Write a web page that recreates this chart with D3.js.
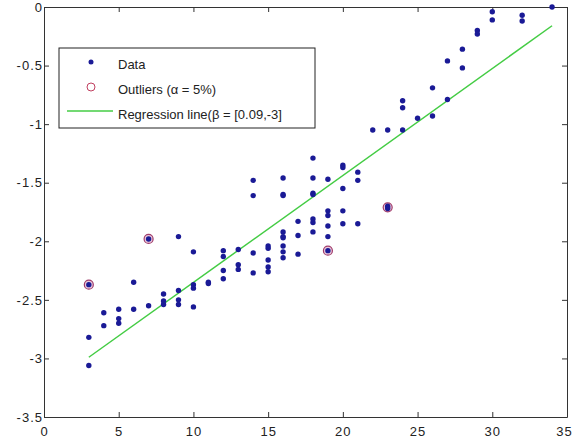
<!DOCTYPE html>
<html lang="en">
<head>
  <meta charset="UTF-8">
  <title>Regression with outliers</title>
  <style>
    body { margin: 0; background: #fff; }
    svg text { font-family: "Liberation Sans", Arial, sans-serif; font-size: 13px; fill: #222; }
  </style>
</head>
<body>
  <svg id="chart" width="574" height="440"></svg>

  <script src="https://d3js.org/d3.v7.min.js"></script>
  <script>
    // data
    const dataX = [
      3, 3, 3,
      4, 4,
      5, 5, 5,
      6, 6,
      7, 7,
      8, 8, 8,
      9, 9, 9, 9,
      10, 10, 10, 10,
      11, 11,
      12, 12, 12, 12,
      13, 13, 13,
      14, 14, 14, 14,
      15, 15, 15, 15, 15,
      16, 16, 16, 16, 16, 16, 16, 16, 16,
      17, 17, 17,
      18, 18, 18, 18, 18, 18, 18,
      19, 19, 19, 19, 19, 19,
      20, 20, 20, 20, 20,
      21, 21, 21,
      22,
      23, 23, 23,
      24, 24, 24,
      25,
      26, 26,
      27, 27,
      28, 28,
      29, 29,
      30, 30,
      32, 32,
      34
    ];
    const dataY = [
      -2.37, -2.82, -3.06,
      -2.61, -2.72,
      -2.58, -2.66, -2.70,
      -2.35, -2.58,
      -1.98, -2.55,
      -2.45, -2.51, -2.54,
      -1.96, -2.42, -2.50, -2.54,
      -2.09, -2.37, -2.40, -2.56,
      -2.35, -2.36,
      -2.08, -2.13, -2.25, -2.32,
      -2.07, -2.20, -2.24,
      -1.48, -1.61, -2.10, -2.27,
      -2.04, -2.06, -2.16, -2.22, -2.26,
      -1.46, -1.60, -1.61, -1.92, -1.96, -1.97, -2.04, -2.09, -2.14,
      -1.83, -1.95, -2.11,
      -1.29, -1.46, -1.59, -1.60, -1.81, -1.84, -1.92,
      -1.47, -1.74, -1.78, -1.87, -1.96, -2.08,
      -1.35, -1.37, -1.55, -1.74, -1.85,
      -1.41, -1.48, -1.85,
      -1.05,
      -1.05, -1.70, -1.72,
      -0.80, -0.86, -1.05,
      -0.95,
      -0.69, -0.93,
      -0.46, -0.79,
      -0.36, -0.52,
      -0.20, -0.23,
      -0.04, -0.11,
      -0.07, -0.12,
      0
    ];
    const outlierX = [3, 7, 19, 23];
    const outlierY = [-2.37, -1.98, -2.08, -1.71];
    const lineX = [3, 34];
    const lineY = [-2.99, -0.16];
    const xTicks = [0, 5, 10, 15, 20, 25, 30, 35];
    const yTicks = [-3.5, -3, -2.5, -2, -1.5, -1, -0.5, 0];
    const legendLabels = ["Data", "Outliers (\u03b1 = 5%)", "Regression line(\u03b2 = [0.09,-3]"];

    const svg = d3.select("#chart");

    const x = d3.scaleLinear().domain([0, 35]).range([44, 567]);
    const y = d3.scaleLinear().domain([-3.5, 0]).range([417, 7]);

    const axisColor = "#333";
    const dotColor = "#1a1a96";
    const lineColor = "#44cc44";

    // axes, ticks pointing inward like matlab
    const axBottom = svg.append("g")
      .attr("transform", `translate(0,${y(-3.5)})`)
      .call(d3.axisBottom(x).tickValues(xTicks).tickSizeInner(-5).tickSizeOuter(0)
        .tickPadding(10).tickFormat(d => String(d)));

    const axLeft = svg.append("g")
      .attr("transform", `translate(${x(0)},0)`)
      .call(d3.axisLeft(y).tickValues(yTicks).tickSizeInner(-5).tickSizeOuter(0)
        .tickPadding(1).tickFormat(d => String(d)));

    const axTop = svg.append("g")
      .attr("transform", `translate(0,${y(0)})`)
      .call(d3.axisTop(x).tickValues(xTicks).tickSizeInner(-5).tickSizeOuter(0).tickFormat(""));

    const axRight = svg.append("g")
      .attr("transform", `translate(${x(35)},0)`)
      .call(d3.axisRight(y).tickValues(yTicks).tickSizeInner(-5).tickSizeOuter(0).tickFormat(""));

    [axBottom, axLeft, axTop, axRight].forEach(g => {
      g.select(".domain").attr("stroke", axisColor);
      g.selectAll(".tick line").attr("stroke", axisColor);
      g.selectAll(".tick text")
        .attr("fill", "#222")
        .style("font-size", "13px")
        .style("letter-spacing", "1px");
    });

    // last x label sits right at the edge, nudge it in a bit
    axBottom.selectAll(".tick text").filter(d => d === 35).attr("dx", -3);

    // regression line
    svg.append("line")
      .attr("x1", x(lineX[0])).attr("y1", y(lineY[0]))
      .attr("x2", x(lineX[1])).attr("y2", y(lineY[1]))
      .attr("stroke", lineColor)
      .attr("stroke-width", 1.5);

    // outliers (drawn under the dots, faint fill)
    svg.append("g").selectAll("circle")
      .data(outlierX.map((d, i) => [d, outlierY[i]]))
      .enter()
      .append("circle")
      .attr("cx", d => x(d[0]))
      .attr("cy", d => y(d[1]))
      .attr("r", 4.5)
      .attr("fill", "#e8c8dc")
      .attr("stroke", "#a03c6a")
      .attr("stroke-width", 1.2);

    // data points
    svg.append("g").selectAll("circle")
      .data(dataX.map((d, i) => [d, dataY[i]]))
      .enter()
      .append("circle")
      .attr("cx", d => x(d[0]))
      .attr("cy", d => y(d[1]))
      .attr("r", 2.7)
      .attr("fill", dotColor);

    // legend
    const legend = svg.append("g").attr("transform", "translate(59,48)");
    legend.append("rect")
      .attr("width", 256).attr("height", 80)
      .attr("fill", "#fff").attr("stroke", "#222").attr("stroke-width", 1);

    legend.append("circle").attr("cx", 32).attr("cy", 14).attr("r", 2.5).attr("fill", dotColor);
    legend.append("circle").attr("cx", 32).attr("cy", 39).attr("r", 4).attr("fill", "none")
      .attr("stroke", "#c04060").attr("stroke-width", 1);
    legend.append("line").attr("x1", 8).attr("x2", 54).attr("y1", 63).attr("y2", 63)
      .attr("stroke", lineColor).attr("stroke-width", 1.5);

    legend.selectAll("text.lbl")
      .data(legendLabels)
      .enter()
      .append("text")
      .attr("class", "lbl")
      .attr("x", 59)
      .attr("y", (d, i) => 16 + i * 25)
      .attr("dy", "0.35em")
      .text(d => d);
  </script>
</body>
</html>
